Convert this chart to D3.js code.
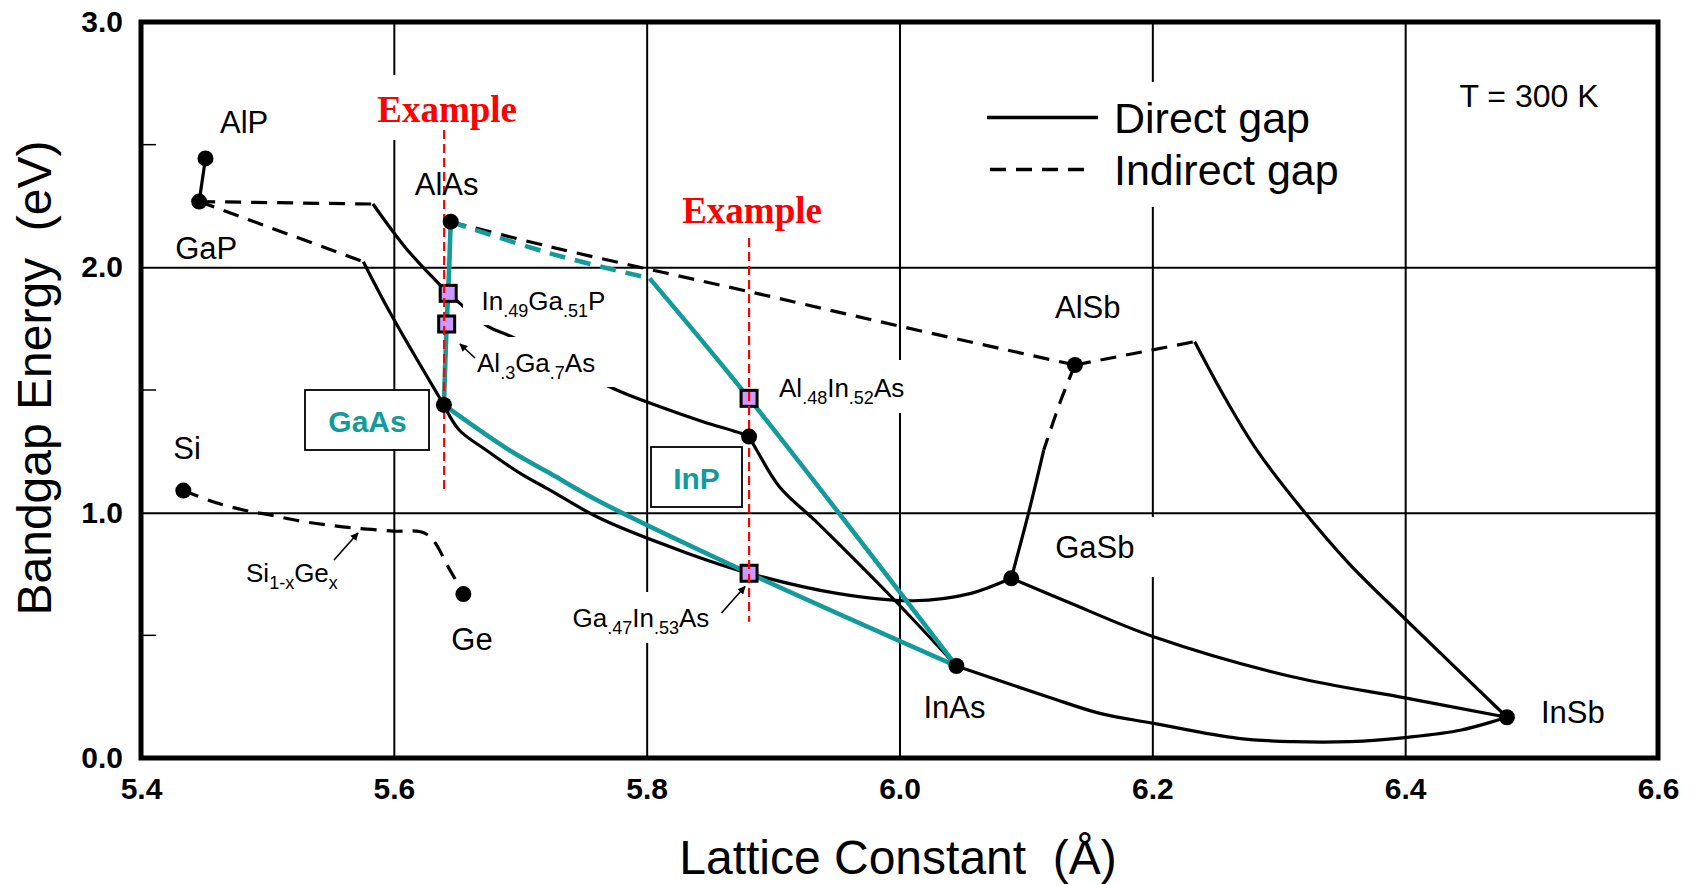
<!doctype html>
<html lang="en">
<head>
<meta charset="utf-8">
<title>Bandgap Energy vs Lattice Constant</title>
<script src="https://cdnjs.cloudflare.com/ajax/libs/d3/7.8.5/d3.min.js"></script>
<style>
    body { margin: 0; background: #fff; }
    svg { display: block; font-family: "Liberation Sans", Arial, sans-serif; }
    .grid line { stroke: #000; stroke-width: 2; }
    .grid path { display: none; }
    .ticks path, .ticks line { display: none; }
    .ticks text { font-size: 30px; font-weight: bold; fill: #000; font-family: "Liberation Sans", Arial, sans-serif; }
    .curve { fill: none; stroke: #000; stroke-width: 3.2; stroke-linejoin: round; }
    .curve.teal { stroke: #139b99; stroke-width: 4.6; }
    .curve.indirect { stroke-dasharray: 16 10; }
    .lbl { font-size: 31px; fill: #000; }
    .pre { white-space: pre; }
</style>
</head>
<body>
<div id="chart"></div>
<script>

// elements and binary compounds: name, lattice constant (A), bandgap (eV)
var compoundNames = ["AlP", "GaP", "AlAs", "GaAs", "InP", "InAs", "GaSb", "AlSb", "InSb", "Si", "Ge"];
var compoundA     = [5.451, 5.446, 5.645, 5.6396, 5.881, 6.045, 6.0884, 6.1388, 6.4805, 5.4335, 5.655];
var compoundEg    = [2.444, 2.268, 2.186, 1.439, 1.310, 0.375, 0.7325, 1.602, 0.166, 1.090, 0.668];

// lattice matched alloys (squares)
var alloyNames = ["In.49Ga.51P", "Al.3Ga.7As", "Al.48In.52As", "Ga.47In.53As"];
var alloyA     = [5.643, 5.6418, 5.881, 5.881];
var alloyEg    = [1.894, 1.769, 1.466, 0.753];

// ternary curves, [a, Eg]
var alPGaP = [[5.451, 2.444], [5.446, 2.268]];
var gaAsPIndirect = [[5.446, 2.268], [5.5759, 2.023]];
var gaAsPDirect = [[5.5759, 2.023], [5.5973, 1.8126], [5.6396, 1.439]];
var gaInPIndirect = [[5.446, 2.268], [5.5835, 2.258]];
var gaInPDirect = [[5.5835, 2.258], [5.6094, 2.079], [5.6365, 1.928], [5.643, 1.894], [5.6523, 1.853],
    [5.6747, 1.758], [5.6919, 1.720], [5.7763, 1.500], [5.8106, 1.432], [5.8446, 1.371], [5.8746, 1.3235], [5.881, 1.310]];
var alAsSbIndirect = [[5.645, 2.186], [5.7235, 2.084], [5.887, 1.894], [6.002, 1.758], [6.1388, 1.602]];
var gaAsSb = [[5.6396, 1.439], [5.6517, 1.337], [5.6729, 1.2555], [5.700, 1.160], [5.7235, 1.092], [5.763, 0.977],
    [5.8327, 0.834], [5.881, 0.753], [5.9506, 0.671], [6.0112, 0.641], [6.0566, 0.671], [6.0884, 0.7325]];
var inAsP = [[5.881, 1.310], [5.887, 1.2555], [5.905, 1.106], [5.9355, 0.9567], [5.996, 0.644], [6.045, 0.375]];
var alGaSbIndirect = [[6.1388, 1.602], [6.1277, 1.459], [6.1141, 1.255]];
var alGaSbDirect = [[6.1141, 1.255], [6.102, 0.997], [6.0884, 0.7325]];
var alInSbIndirect = [[6.1388, 1.602], [6.2335, 1.697]];
var alInSbDirect = [[6.2335, 1.697], [6.2585, 1.459], [6.2827, 1.255], [6.319, 1.0108], [6.3554, 0.7936],
    [6.4008, 0.5625], [6.4805, 0.166]];
var gaInSb = [[6.0884, 0.7325], [6.1322, 0.638], [6.201, 0.4944], [6.3107, 0.331], [6.402, 0.243], [6.4805, 0.166]];
var inAsSb = [[6.045, 0.375], [6.117, 0.2499], [6.1585, 0.182], [6.201, 0.1414], [6.268, 0.0803], [6.311, 0.0664],
    [6.3564, 0.0664], [6.402, 0.0844], [6.4445, 0.1141], [6.4805, 0.166]];
var siGeIndirect = [[5.4335, 1.090], [5.457, 1.0447], [5.4809, 1.0109], [5.502, 0.9905], [5.5258, 0.966], [5.5469, 0.950],
    [5.5706, 0.9364], [5.5996, 0.925], [5.626, 0.912], [5.6444, 0.766], [5.655, 0.668]];

// highlighted (teal) curves
var alGaAs = [[5.645, 2.186], [5.643, 1.894], [5.6418, 1.769], [5.6396, 1.439]];
var alInAsIndirect = [[5.645, 2.186], [5.7235, 2.057], [5.8023, 1.955]];
var alInAsDirect = [[5.8023, 1.955], [5.881, 1.466], [6.045, 0.375]];
var gaInAs = [[5.6396, 1.439], [5.6911, 1.2555], [5.7235, 1.1605], [5.7631, 1.0447], [5.881, 0.753], [6.045, 0.375]];

// "Example" guide lines: lattice constant, top, bottom
var exampleA = [5.6398, 5.881];
var exampleTop = [2.56, 2.12];
var exampleBottom = [1.09, 0.555];

// axes
var xTicks = [5.4, 5.6, 5.8, 6.0, 6.2, 6.4, 6.6];
var yTicks = [0, 1, 2, 3];
var yMinorTicks = [0.5, 1.5, 2.5];

var width = 1703, height = 885;
var margin = {top: 22, right: 45, bottom: 127, left: 141};

var x = d3.scaleLinear().domain([5.4, 6.6]).range([margin.left, width - margin.right]);
var y = d3.scaleLinear().domain([0, 3]).range([height - margin.bottom, margin.top]);
var plotW = width - margin.left - margin.right;
var plotH = height - margin.top - margin.bottom;

var svg = d3.select("#chart").append("svg")
    .attr("width", width)
    .attr("height", height);

var defs = svg.append("defs");
defs.append("marker")
    .attr("id", "arrow")
    .attr("viewBox", "0 0 10 10")
    .attr("refX", 9).attr("refY", 5)
    .attr("markerWidth", 5).attr("markerHeight", 5)
    .attr("markerUnits", "strokeWidth")
    .attr("orient", "auto")
    .append("path").attr("d", "M0,0 L10,5 L0,10 z").attr("fill", "#000");

// grid lines
svg.append("g")
    .attr("class", "grid")
    .attr("transform", "translate(0," + (height - margin.bottom) + ")")
    .call(d3.axisBottom(x).tickValues(xTicks.slice(1, -1)).tickSize(-plotH).tickFormat(""));
svg.append("g")
    .attr("class", "grid")
    .attr("transform", "translate(" + margin.left + ",0)")
    .call(d3.axisLeft(y).tickValues([1, 2]).tickSize(-plotW).tickFormat(""));

// minor ticks on the left frame
svg.append("g").selectAll("line")
    .data(yMinorTicks)
    .enter().append("line")
    .attr("x1", margin.left).attr("x2", margin.left + 15)
    .attr("y1", function(d) { return y(d); })
    .attr("y2", function(d) { return y(d); })
    .attr("stroke", "#000").attr("stroke-width", 1.5);

// white label backgrounds that cut the grid
var gridCovers = [[375, 75, 145, 65], [980, 82, 380, 125], [770, 360, 140, 53], [565, 592, 153, 51], [1046, 517, 112, 60]];
svg.append("g").selectAll("rect")
    .data(gridCovers)
    .enter().append("rect")
    .attr("x", function(d) { return d[0]; })
    .attr("y", function(d) { return d[1]; })
    .attr("width", function(d) { return d[2]; })
    .attr("height", function(d) { return d[3]; })
    .attr("fill", "#fff");

var line = d3.line()
    .x(function(d) { return x(d[0]); })
    .y(function(d) { return y(d[1]); })
    .curve(d3.curveCatmullRom.alpha(0.5));

var blackCurves = [
    [alPGaP, false], [gaAsPIndirect, true], [gaAsPDirect, false], [gaInPIndirect, true], [gaInPDirect, false],
    [alAsSbIndirect, true], [gaAsSb, false], [inAsP, false], [alGaSbIndirect, true], [alGaSbDirect, false],
    [alInSbIndirect, true], [alInSbDirect, false], [gaInSb, false], [inAsSb, false], [siGeIndirect, true]
];
var tealCurves = [[alGaAs, false], [alInAsIndirect, true], [alInAsDirect, false], [gaInAs, false]];

var curveG = svg.append("g");
curveG.selectAll("path.black")
    .data(blackCurves)
    .enter().append("path")
    .attr("class", function(d) { return "curve black" + (d[1] ? " indirect" : ""); })
    .attr("d", function(d) { return line(d[0]); });

// labels that sit on top of the GaInP curve
var curveCovers = [[463, 282, 145, 43], [470, 337, 145, 50]];
svg.append("g").selectAll("rect")
    .data(curveCovers)
    .enter().append("rect")
    .attr("x", function(d) { return d[0]; })
    .attr("y", function(d) { return d[1]; })
    .attr("width", function(d) { return d[2]; })
    .attr("height", function(d) { return d[3]; })
    .attr("fill", "#fff");

curveG = svg.append("g");
curveG.selectAll("path.teal")
    .data(tealCurves)
    .enter().append("path")
    .attr("class", function(d) { return "curve teal" + (d[1] ? " indirect" : ""); })
    .attr("d", function(d) { return line(d[0]); });

// lattice matched squares
svg.append("g").selectAll("rect")
    .data(alloyA)
    .enter().append("rect")
    .attr("x", function(d) { return x(d) - 8; })
    .attr("y", function(d, i) { return y(alloyEg[i]) - 8; })
    .attr("width", 16).attr("height", 16)
    .attr("fill", "#cc99ff")
    .attr("stroke", "#000").attr("stroke-width", 3);

// red example lines
svg.append("g").selectAll("line")
    .data(exampleA)
    .enter().append("line")
    .attr("x1", function(d) { return x(d); })
    .attr("x2", function(d) { return x(d); })
    .attr("y1", function(d, i) { return y(exampleTop[i]); })
    .attr("y2", function(d, i) { return y(exampleBottom[i]); })
    .attr("stroke", "#ff0000").attr("stroke-width", 2.2)
    .attr("stroke-dasharray", "9 5");

// compound dots
svg.append("g").selectAll("circle")
    .data(compoundA)
    .enter().append("circle")
    .attr("cx", function(d) { return x(d); })
    .attr("cy", function(d, i) { return y(compoundEg[i]); })
    .attr("r", 8)
    .attr("fill", "#000");

// compound labels, offset from their dots (GaAs and InP get boxes)
var labelOffsets = {
    AlP: [14.5, -25], GaP: [-24, 57.6], AlAs: [-36, -27], Si: [-10, -32], Ge: [-12, 56],
    InAs: [-33, 52], GaSb: [44, -20], AlSb: [-20, -47], InSb: [34, 6]
};
svg.append("g").selectAll("text")
    .data(compoundNames.filter(function(n) { return labelOffsets[n]; }))
    .enter().append("text")
    .attr("class", "lbl")
    .attr("x", function(n) { return x(compoundA[compoundNames.indexOf(n)]) + labelOffsets[n][0]; })
    .attr("y", function(n) { return y(compoundEg[compoundNames.indexOf(n)]) + labelOffsets[n][1]; })
    .text(function(n) { return n; });

// boxed teal labels
function boxedLabel(bx, by, bw, bh, txt, tx, ty) {
    svg.append("rect").attr("x", bx).attr("y", by).attr("width", bw).attr("height", bh)
        .attr("fill", "#fff").attr("stroke", "#000").attr("stroke-width", 1.8);
    svg.append("text").attr("x", tx).attr("y", ty)
        .attr("text-anchor", "middle")
        .style("font-size", "30px").style("font-weight", "bold").style("fill", "#139b99")
        .text(txt);
}
boxedLabel(305, 390, 124, 60, "GaAs", 367.5, 431.5);
boxedLabel(651, 447, 91, 60, "InP", 696.5, 489);

// text with subscripts
function richText(px, py, parts, main, sub) {
    var t = svg.append("text").attr("x", px).attr("y", py).style("font-size", main + "px");
    var shift = 0;
    parts.forEach(function(p) {
        var s = p[1] ? 7 : 0;
        t.append("tspan").attr("dy", s - shift)
            .style("font-size", (p[1] ? sub : main) + "px")
            .text(p[0]);
        shift = s;
    });
}
richText(481.5, 310, [["In", 0], [".49", 1], ["Ga", 0], [".51", 1], ["P", 0]], 26, 18);
richText(477, 371.5, [["Al", 0], [".3", 1], ["Ga", 0], [".7", 1], ["As", 0]], 26, 18);
richText(779, 396.5, [["Al", 0], [".48", 1], ["In", 0], [".52", 1], ["As", 0]], 26, 18);
richText(572.5, 627, [["Ga", 0], [".47", 1], ["In", 0], [".53", 1], ["As", 0]], 26, 18);
richText(246, 581.5, [["Si", 0], ["1-x", 1], ["Ge", 0], ["x", 1]], 26, 18);

// pointer arrows
var arrows = [[475, 358, 460, 344], [334, 560, 358, 533], [721.5, 613, 745, 586.5]];
svg.append("g").selectAll("line")
    .data(arrows)
    .enter().append("line")
    .attr("x1", function(d) { return d[0]; }).attr("y1", function(d) { return d[1]; })
    .attr("x2", function(d) { return d[2]; }).attr("y2", function(d) { return d[3]; })
    .attr("stroke", "#000").attr("stroke-width", 1.6)
    .attr("marker-end", "url(#arrow)");

// "Example" captions
svg.append("g").selectAll("text")
    .data(exampleA)
    .enter().append("text")
    .attr("x", function(d) { return x(d) + 3; })
    .attr("y", function(d, i) { return i === 0 ? 121.5 : 222.5; })
    .attr("text-anchor", "middle")
    .style("font-family", "'Liberation Serif', 'Times New Roman', serif")
    .style("font-size", "37px").style("font-weight", "bold").style("fill", "#ff0000")
    .text("Example");

// legend
var legend = svg.append("g");
legend.append("line").attr("x1", 987).attr("x2", 1098).attr("y1", 117.5).attr("y2", 117.5)
    .attr("stroke", "#000").attr("stroke-width", 3.4);
legend.append("line").attr("x1", 990).attr("x2", 1085).attr("y1", 169.5).attr("y2", 169.5)
    .attr("stroke", "#000").attr("stroke-width", 3.4).attr("stroke-dasharray", "16 10");
legend.append("text").attr("x", 1114).attr("y", 133).style("font-size", "43px").text("Direct gap");
legend.append("text").attr("x", 1114).attr("y", 185).style("font-size", "43px").text("Indirect gap");

svg.append("text").attr("x", 1459.5).attr("y", 107).style("font-size", "32px").text("T = 300 K");

// tick labels
svg.append("g")
    .attr("class", "ticks")
    .attr("transform", "translate(0," + (height - margin.bottom) + ")")
    .call(d3.axisBottom(x).tickValues(xTicks).tickSize(0).tickPadding(20).tickFormat(d3.format(".1f")));
svg.append("g")
    .attr("class", "ticks")
    .attr("transform", "translate(" + margin.left + ",0)")
    .call(d3.axisLeft(y).tickValues(yTicks).tickSize(0).tickPadding(18).tickFormat(d3.format(".1f")));

// frame
svg.append("rect")
    .attr("x", margin.left).attr("y", margin.top)
    .attr("width", plotW).attr("height", plotH)
    .attr("fill", "none").attr("stroke", "#000").attr("stroke-width", 5);

// axis titles
svg.append("text")
    .attr("class", "pre")
    .attr("x", 898).attr("y", 874)
    .attr("text-anchor", "middle")
    .style("font-size", "48px")
    .text("Lattice Constant  (\u00c5)");
svg.append("text")
    .attr("class", "pre")
    .attr("transform", "translate(51,378) rotate(-90)")
    .attr("text-anchor", "middle")
    .style("font-size", "48px")
    .text("Bandgap Energy  (eV)");

</script>
</body>
</html>
